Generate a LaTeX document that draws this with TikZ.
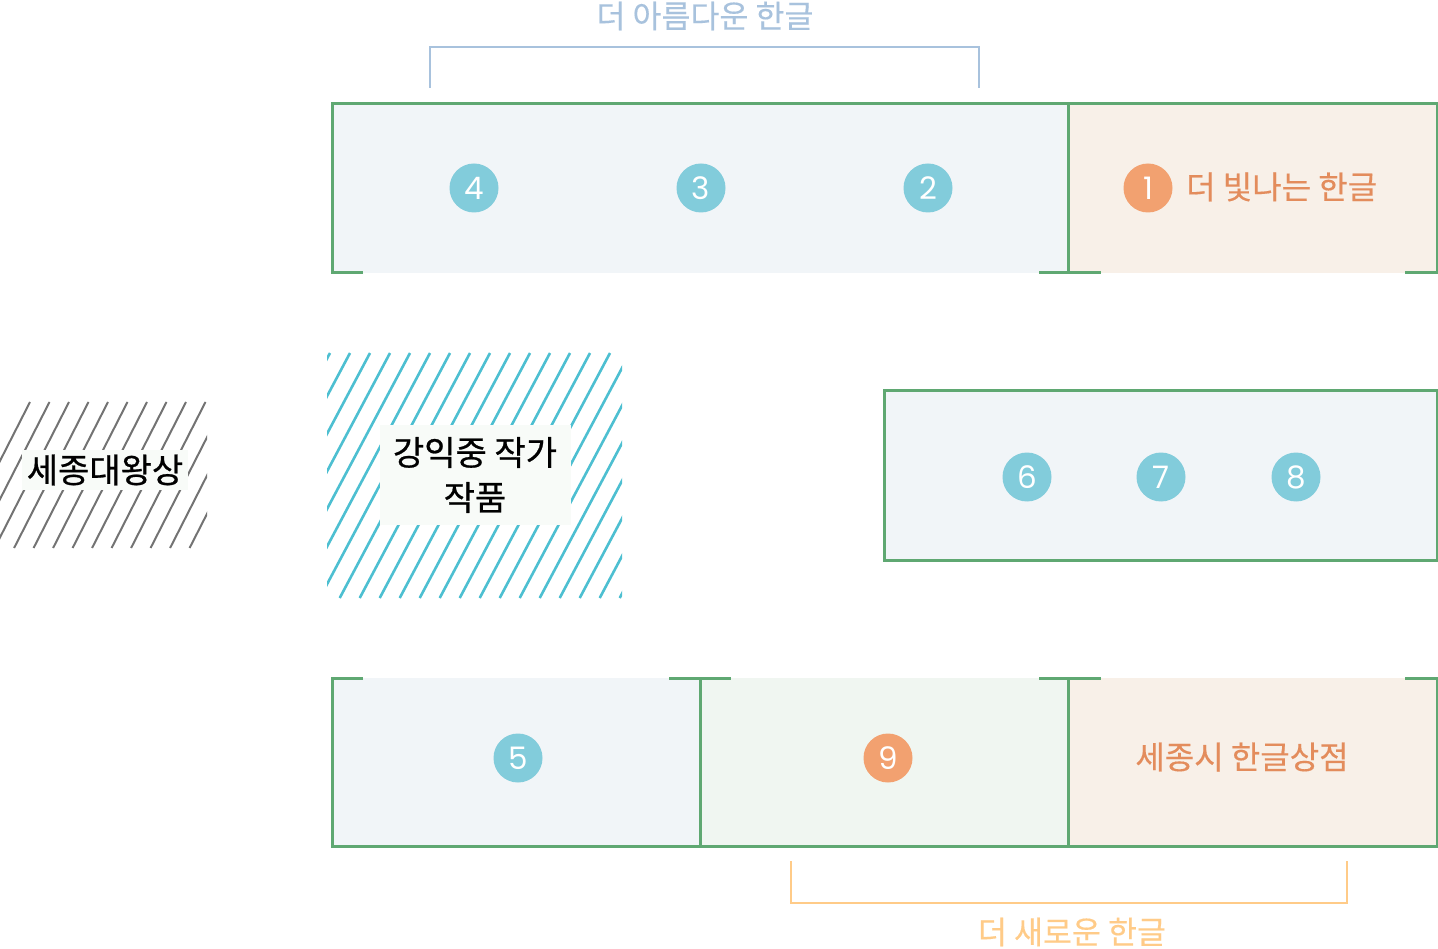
\documentclass[tikz,border=0pt]{standalone}
\usepackage{fontspec}
\setmainfont{Noto Sans CJK KR}
\newfontfamily\krmed[FakeBold=0.7]{Noto Sans CJK KR}
\newfontfamily\krsemi[FakeBold=0.35]{Noto Sans CJK KR}
\newfontfamily\numfont{Poppins}
\definecolor{wallc}{HTML}{5FA872}
\definecolor{bluefill}{HTML}{F1F5F8}
\definecolor{beigefill}{HTML}{F8F0E8}
\definecolor{greenfill}{HTML}{F0F6F1}
\definecolor{cblue}{HTML}{82CCDB}
\definecolor{corange}{HTML}{F2A170}
\definecolor{torange}{HTML}{E38C5C}
\definecolor{topbr}{HTML}{A8C2DD}
\definecolor{botbr}{HTML}{FFCB88}
\definecolor{teal}{HTML}{4DBFD1}
\definecolor{hgray}{HTML}{737373}
\definecolor{labelbg}{HTML}{F8FBF8}
\tikzset{
  wall/.style={draw=wallc, line width=3pt},
  circ/.style={circle, minimum size=49pt, inner sep=0pt, text=white, font=\numfont\fontsize{31}{31}\selectfont},
  blue circ/.style={circ, fill=cblue},
  orange circ/.style={circ, fill=corange},
  roomtext/.style={text=torange, font=\krsemi\fontsize{32}{32}\selectfont, inner sep=0pt},
  hlabel/.style={fill=labelbg, text=black, font=\krmed\fontsize{34}{45}\selectfont, align=center},
  brlabel/.style={font=\krsemi\fontsize{31.5}{31.5}\selectfont, inner sep=0pt},
}
\begin{document}
\begin{tikzpicture}[x=1pt,y=-1pt]
\path[use as bounding box] (0,0) rectangle (1438,949);
% ---- top row
\fill[bluefill] (332,104) rectangle (1068,273);
\fill[beigefill] (1068,104) rectangle (1437,273);
\draw[wall] (363,273) -- (332,273) -- (332,104) -- (1437,104) -- (1437,273) -- (1405,273);
\draw[wall] (1039,273) -- (1101,273);
\draw[wall] (1068,104) -- (1068,273);
% ---- middle room
\fill[bluefill] (884,391) rectangle (1437,560);
\draw[wall] (884,391) rectangle (1437,560);
% ---- bottom row
\fill[bluefill] (332,678) rectangle (700,846);
\fill[greenfill] (700,678) rectangle (1068,846);
\fill[beigefill] (1068,678) rectangle (1437,846);
\draw[wall] (363,678) -- (332,678) -- (332,846) -- (1437,846) -- (1437,678) -- (1405,678);
\draw[wall] (669,678) -- (731,678);
\draw[wall] (1039,678) -- (1101,678);
\draw[wall] (700,678) -- (700,846);
\draw[wall] (1068,678) -- (1068,846);
% ---- hatch areas
\begin{scope}
\clip (0,402) rectangle (207,548);
\foreach \i in {0,...,16} {
  \draw[hgray, line width=2pt] (-44.4+\i*19.5,548) -- ++(74.4,-146);
}
\end{scope}
\begin{scope}
\clip (327,353) rectangle (622,598);
\foreach \i in {-8,...,15} {
  \draw[teal, line width=2.6pt] (339.7+\i*20,598) -- ++(130.3,-245);
}
\end{scope}
\node[hlabel, minimum width=166pt, minimum height=40pt, inner sep=0pt] (sejong) at (105,470) {세종대왕상};
\node[hlabel, minimum width=191pt, minimum height=100pt, inner sep=0pt] (kang) at (475,475) {강익중 작가\\작품};
% ---- circles
\node[blue circ] (n4) at (474,188) {4};
\node[blue circ] (n3) at (701,188) {3};
\node[blue circ] (n2) at (928,188) {2};
\node[orange circ] (n1) at (1148,188) {1};
\node[roomtext, anchor=west] (t1) at (1186,187) {더 빛나는 한글};
\node[blue circ] (n6) at (1027,477) {6};
\node[blue circ] (n7) at (1161,477) {7};
\node[blue circ] (n8) at (1296,477) {8};
\node[blue circ] (n5) at (518,758) {5};
\node[orange circ] (n9) at (888,758) {9};
\node[roomtext] (store) at (1242,757) {세종시 한글상점};
% ---- brackets
\coordinate (tbl) at (430,88);
\coordinate (tbr) at (979,88);
\draw[topbr, line width=1.6pt] (tbl) -- (430,47) -- (979,47) -- (tbr);
\node[brlabel, text=topbr] (toplabel) at (705,16) {더 아름다운 한글};
\coordinate (bbl) at (791,861);
\coordinate (bbr) at (1347,861);
\draw[botbr, line width=1.6pt] (bbl) -- (791,903) -- (1347,903) -- (bbr);
\node[brlabel, text=botbr] (botlabel) at (1072,932) {더 새로운 한글};
\end{tikzpicture}
\end{document}
